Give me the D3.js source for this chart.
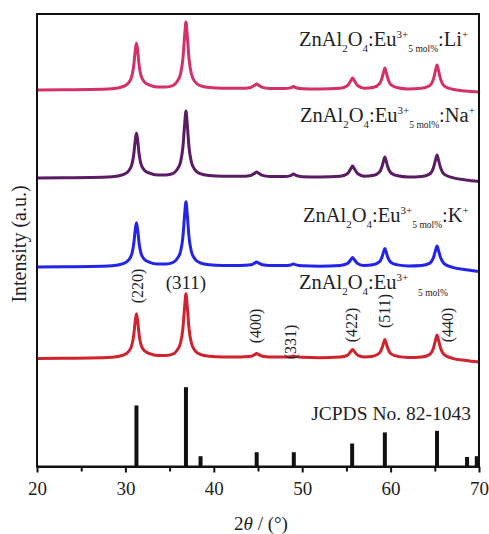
<!DOCTYPE html>
<html>
<head>
<meta charset="utf-8">
<script src="https://cdn.jsdelivr.net/npm/d3@7"></script>
<style>
  body { margin: 0; background: #fff; }
  svg text { font-family: "Liberation Serif", "Times New Roman", serif; fill: #222; }
</style>
</head>
<body>
<div id="chart"></div>
<script>
// 2theta sample positions shared by all four patterns
const twoTheta = [20, 23, 26, 28.5, 29.75, 30.35, 30.75, 30.95, 31.1, 31.25, 31.4, 31.55, 31.75, 32.15, 32.75,
  33.6, 34.6, 35.35, 35.85, 36.25, 36.5, 36.7, 36.85, 37.0, 37.2, 37.45, 37.85, 38.45, 39.5, 41, 43,
  44.2, 44.6, 44.85, 45.1, 45.5, 46.3, 48.0, 48.7, 49.0, 49.3, 50.0, 52, 54.3, 55.1, 55.5, 55.7, 55.9,
  56.3, 57.0, 58.0, 58.75, 59.05, 59.2, 59.35, 59.5, 59.65, 60.05, 60.8, 62.0, 63.5, 64.4, 64.85, 65.1,
  65.25, 65.4, 65.65, 66.05, 67, 68.5, 70];

// intensities above each pattern's own baseline (a.u.)
const euI = [0, 0.3, 0.5, 1.2, 3.4, 6.9, 14, 23.9, 36.4, 44.7, 36.4, 24, 14.2, 7.7, 4.8, 3.0, 3.0, 4.3, 8.2, 16,
  29.6, 51.7, 64.7, 51.7, 29.6, 16, 8.2, 4.2, 2.3, 1.6, 1.5, 2.2, 3.8, 5, 3.8, 2.3, 1.5, 1.4, 1.8, 2.5, 1.9, 1.2, 0.8,
  1.5, 3.2, 7, 9, 7, 3.2, 1.6, 2.3, 5.5, 10.9, 15.4, 19, 15.4, 10.9, 4.6, 2.1, 1.0, 1.6, 3.9, 10.5, 19, 23.5, 19, 10.5,
  3.9, 0.2, -2, -3.5];
const kI = [0, 0.3, 0.5, 1.2, 3.4, 6.8, 13.9, 23.7, 36.1, 44.3, 36.1, 23.8, 14.1, 7.6, 4.7, 3.0, 3.0, 4.3, 8.2, 16,
  29.7, 52, 65.3, 52, 29.7, 16, 8.2, 4.2, 2.3, 1.6, 1.5, 2.2, 3.8, 5, 3.8, 2.3, 1.5, 1.4, 2.0, 3, 2.1, 1.2, 0.8,
  1.5, 3.3, 7.3, 9.5, 7.3, 3.3, 1.6, 2.2, 5.3, 10.6, 15, 18.5, 15, 10.6, 4.5, 2.1, 1.0, 1.5, 3.6, 9.5, 17, 21,
  17, 9.5, 3.4, -0.3, -2.8, -4.5];
const naI = [0, 0.3, 0.5, 1.2, 3.4, 6.9, 14.1, 24, 36.6, 45, 36.6, 24.1, 14.3, 7.8, 4.8, 3.0, 3.1, 4.4, 8.4, 16.4,
  30.5, 53.3, 67, 53.3, 30.5, 16.4, 8.4, 4.3, 2.4, 1.7, 1.7, 2.6, 4.6, 6, 4.6, 2.6, 1.6, 1.5, 2.4, 4, 2.6, 1.3, 0.9,
  1.7, 4.2, 9.3, 12, 9.3, 4.2, 1.8, 2.4, 6, 12, 17, 21, 17, 12, 5, 2.2, 1.0, 1.6, 3.9, 10.3, 18.6, 23,
  18.6, 10.3, 3.9, 0.3, -2, -3.5];
const liI = [0, 0.3, 0.5, 1.2, 3.5, 7.1, 14.7, 25, 38.2, 47, 38.2, 25.1, 14.9, 8, 4.9, 3.1, 3.1, 4.4, 8.5, 16.6,
  30.9, 54, 68, 54, 30.9, 16.6, 8.5, 4.3, 2.4, 1.7, 1.7, 2.6, 4.6, 6, 4.6, 2.6, 1.6, 1.5, 2.1, 3.5, 2.3, 1.3, 0.9,
  1.7, 4.2, 9.3, 12, 9.3, 4.2, 1.8, 2.5, 6.3, 12.6, 17.8, 22, 17.8, 12.6, 5.2, 2.3, 1.1, 1.7, 4.2, 11.1, 20.2, 25,
  20.2, 11.1, 4.2, 0.8, -1, -2];

const seriesVals = [euI, kI, naI, liI];
const seriesOffset = [108, 199.5, 288.5, 376.5]; // vertical stacking offset
const seriesColor = ["#d0232e", "#2424e8", "#5a1c63", "#d3306c"];

// reference card JCPDS No. 82-1043
const jcpdsPos = [31.25, 36.85, 38.5, 44.85, 49.05, 55.65, 59.35, 65.25, 68.65, 69.75];
const jcpdsInt = [77, 100, 13, 18, 18, 29, 43, 45, 12, 13];

// Miller indices of the sample peaks
const hklText = ["(220)", "(311)", "(400)", "(331)", "(422)", "(511)", "(440)"];
const hklPos = [31.4, 36.85, 44.75, 48.7, 55.6, 59.35, 66.4];

const xTicks = [20, 30, 40, 50, 60, 70];
const xMinor = [25, 35, 45, 55, 65];

const width = 489, height = 534;
const marginLeft = 37, marginRight = 10, marginTop = 14, marginBottom = 67.5;

const svg = d3.select("#chart").append("svg")
  .attr("width", width).attr("height", height);

const x = d3.scaleLinear([20, 70], [marginLeft, width - marginRight]);
const y = d3.scaleLinear([0, 452.5], [height - marginBottom, marginTop]);
const yStick = d3.scaleLinear([0, 100], [height - marginBottom, 387.2]);

// patterns
const line = d3.line()
  .x(d => x(d[0]))
  .y(d => y(d[1]))
  .curve(d3.curveMonotoneX);

seriesVals.forEach((vals, i) => {
  const pts = twoTheta.map((t, j) => [t, vals[j] + seriesOffset[i]]);
  svg.append("path")
    .attr("fill", "none")
    .attr("stroke", seriesColor[i])
    .attr("stroke-width", 3)
    .attr("stroke-linejoin", "round")
    .attr("d", line(pts));
});

// sticks
svg.append("g").selectAll("rect")
  .data(jcpdsPos)
  .join("rect")
  .attr("x", (d) => x(d) - 2)
  .attr("width", 4)
  .attr("y", (d, i) => yStick(jcpdsInt[i]))
  .attr("height", (d, i) => yStick(0) - yStick(jcpdsInt[i]))
  .attr("fill", "#111");

// frame
svg.append("rect")
  .attr("x", marginLeft).attr("y", marginTop)
  .attr("width", x(70) - marginLeft).attr("height", y(0) - marginTop)
  .attr("fill", "none").attr("stroke", "#111").attr("stroke-width", 2);

// x axis
const xAxis = svg.append("g")
  .attr("transform", `translate(0,${y(0)})`)
  .attr("font-family", "Liberation Serif")
  .call(d3.axisBottom(x).tickValues(xTicks).tickSize(6).tickPadding(9).tickSizeOuter(0));
xAxis.select(".domain").attr("stroke", "#111").attr("stroke-width", 2);
xAxis.selectAll(".tick line").attr("stroke", "#111").attr("stroke-width", 2);
xAxis.selectAll(".tick text")
  .style("font-family", "Liberation Serif").style("font-size", "19px").attr("fill", "#222");

svg.append("g")
  .attr("transform", `translate(0,${y(0)})`)
  .call(d3.axisBottom(x).tickValues(xMinor).tickSize(5).tickFormat(""))
  .call(g => g.select(".domain").remove())
  .call(g => g.selectAll(".tick line").attr("stroke", "#111").attr("stroke-width", 2));

// axis titles
const xt = svg.append("text")
  .attr("x", 261).attr("y", 530)
  .attr("text-anchor", "middle")
  .style("font-size", "19px");
xt.append("tspan").text("2");
xt.append("tspan").style("font-style", "italic").text("θ");
xt.append("tspan").text(" / (°)");

svg.append("text")
  .attr("transform", "translate(26,244) rotate(-90)")
  .attr("text-anchor", "middle")
  .style("font-size", "20px")
  .text("Intensity (a.u.)");

// rich text with sub/superscripts
function richText(px, py, parts) {
  const t = svg.append("text").attr("x", px).attr("y", py);
  let cur = 0;
  parts.forEach(p => {
    t.append("tspan")
      .attr("dy", p[2] - cur)
      .style("font-size", p[1] + "px")
      .text(p[0]);
    cur = p[2];
  });
  return t;
}

const big = 20.5, small = 11, tiny = 9.5;
const labelY = [289, 222, 122, 46];
const labelX = [299, 303, 300, 299];
const ions = ["", "K", "Na", "Li"];
ions.forEach((ion, i) => {
  const parts = [["ZnAl", big, 0], ["2", small, 6], ["O", big, 0], ["4", small, 6],
    [":Eu", big, 0], ["3+", small, -8]];
  if (ion) {
    parts.push(["5 mol%", tiny, 6], [":" + ion, big, 0], ["+", small, -8]);
  }
  richText(labelX[i], labelY[i], parts);
});
richText(418, 296, [["5 mol%", tiny, 0]]);

svg.append("text")
  .attr("x", 471).attr("y", 420)
  .attr("text-anchor", "end")
  .style("font-size", "19.5px")
  .text("JCPDS No. 82-1043");

// hkl labels
const hklY = [286, 289, 326, 342, 325, 311, 325];
hklText.forEach((s, i) => {
  if (s === "(311)") {
    svg.append("text")
      .attr("x", x(hklPos[i])).attr("y", hklY[i])
      .attr("text-anchor", "middle")
      .style("font-size", "19px")
      .text(s);
  } else {
    svg.append("text")
      .attr("transform", `translate(${x(hklPos[i]) + 5.5},${hklY[i]}) rotate(-90)`)
      .attr("text-anchor", "middle")
      .style("font-size", "16px")
      .text(s);
  }
});
</script>
</body>
</html>
